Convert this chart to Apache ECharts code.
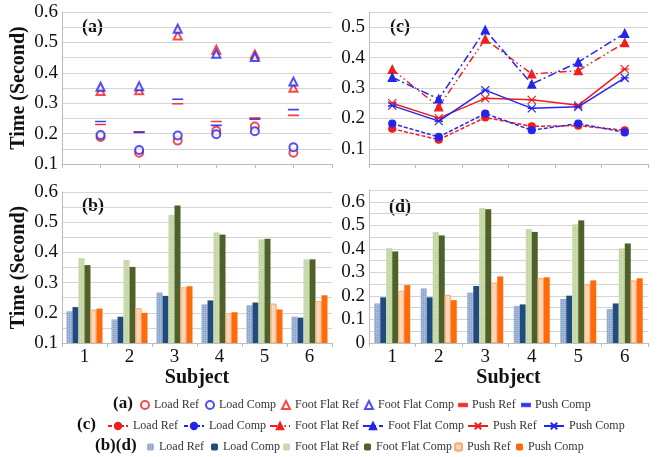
<!DOCTYPE html>
<html>
<head>
<meta charset="utf-8">
<script src="https://cdn.jsdelivr.net/npm/echarts@6/dist/echarts.min.js"></script>
<style>
  html, body { margin: 0; padding: 0; background: #fff; }
  #chart { width: 665px; height: 457px; }
</style>
</head>
<body>
<div id="chart"></div>
<script>
const subjects = ['1', '2', '3', '4', '5', '6']

// (a) scatter
const aLoadRef = [0.189, 0.137, 0.177, 0.209, 0.223, 0.137]
const aLoadComp = [0.195, 0.146, 0.194, 0.198, 0.208, 0.155]
const aFootRef = [0.340, 0.343, 0.523, 0.476, 0.460, 0.351]
const aFootComp = [0.354, 0.356, 0.545, 0.463, 0.452, 0.371]
const aPushRef = [0.230, 0.206, 0.298, 0.240, 0.251, 0.260]
const aPushComp = [0.240, 0.204, 0.313, 0.227, 0.247, 0.279]

// (b) bars
const bLoadRef = [0.205, 0.178, 0.267, 0.228, 0.225, 0.187]
const bLoadComp = [0.219, 0.187, 0.256, 0.241, 0.234, 0.184]
const bFootRef = [0.381, 0.375, 0.524, 0.466, 0.443, 0.377]
const bFootComp = [0.358, 0.352, 0.555, 0.459, 0.445, 0.377]
const bPushRef = [0.210, 0.215, 0.284, 0.199, 0.230, 0.238]
const bPushComp = [0.214, 0.200, 0.288, 0.202, 0.211, 0.258]

// (c) lines
const cLoadRef = [0.166, 0.130, 0.203, 0.174, 0.176, 0.161]
const cLoadComp = [0.183, 0.139, 0.216, 0.161, 0.183, 0.154]
const cFootRef = [0.361, 0.238, 0.461, 0.346, 0.357, 0.449]
const cFootComp = [0.335, 0.264, 0.491, 0.313, 0.385, 0.480]
const cPushRef = [0.250, 0.201, 0.266, 0.261, 0.243, 0.362]
const cPushComp = [0.242, 0.191, 0.293, 0.233, 0.238, 0.333]

// (d) bars
const dLoadRef = [0.168, 0.232, 0.214, 0.158, 0.187, 0.144]
const dLoadComp = [0.194, 0.194, 0.242, 0.164, 0.201, 0.168]
const dFootRef = [0.403, 0.472, 0.574, 0.484, 0.504, 0.402]
const dFootComp = [0.389, 0.457, 0.568, 0.472, 0.521, 0.423]
const dPushRef = [0.221, 0.204, 0.256, 0.275, 0.249, 0.265]
const dPushComp = [0.246, 0.182, 0.283, 0.279, 0.266, 0.275]

const legendNames = ['Load Ref', 'Load Comp', 'Foot Flat Ref', 'Foot Flat Comp', 'Push Ref', 'Push Comp']

const serif = '"Liberation Serif", "Times New Roman", serif'
const red = '#f01e1e'
const blue = '#2424f0'
const dash = 'path://M0,0H10V3H0Z'
const cross = 'path://M0,0L10,10M10,0L0,10M0,5H10'

const barColors = {
  loadRef: '#91a9cf', loadComp: '#1f4b7e',
  footRef: '#c3d5a0', footComp: '#4e6128',
  pushRef: '#fbd3b3', pushComp: '#ff6a0a'
}

const tickLabel = v => {
  const k = Math.round(v * 100)
  if (k % 10 !== 0) return ''
  return k === 0 ? '0' : (k / 100).toFixed(1)
}

const yAxis = (gridIndex, min, max, named) => ({
  type: 'value', gridIndex, min, max, interval: 0.05,
  axisLine: {show: true, lineStyle: {color: '#bdbdbd'}},
  axisTick: {show: false},
  splitLine: {lineStyle: {color: '#d4d4d4'}},
  axisLabel: {formatter: tickLabel, fontFamily: serif, fontSize: 19, color: '#111', margin: 4},
  name: named ? 'Time (Second)' : '',
  nameLocation: 'middle',
  nameGap: 33,
  nameTextStyle: {fontFamily: serif, fontSize: 20, fontWeight: 'bold', color: '#111'}
})

const catAxis = (gridIndex, labels) => ({
  type: 'category', gridIndex, data: subjects,
  axisLine: {lineStyle: {color: '#bdbdbd'}},
  axisTick: {show: true, length: 4, lineStyle: {color: '#bdbdbd'}},
  axisLabel: {show: labels, fontFamily: serif, fontSize: 19, color: '#111', margin: 5},
  name: labels ? 'Subject' : '',
  nameLocation: 'middle',
  nameGap: 25,
  nameTextStyle: {fontFamily: serif, fontSize: 20, fontWeight: 'bold', color: '#111'}
})

const pts = arr => arr.map((v, i) => [i + 1, v])

const scatter = (name, data, symbol, color, size) => ({
  name, type: 'scatter', xAxisIndex: 0, yAxisIndex: 0,
  data: pts(data), symbol, symbolSize: size, symbolKeepAspect: true,
  itemStyle: {color, borderColor: color, borderWidth: 1.2}
})

const line = (name, data, color, symbol, size, dashType) => ({
  name, type: 'line', xAxisIndex: 2, yAxisIndex: 2,
  data, symbol, symbolSize: size,
  lineStyle: {color, width: 1.5, type: dashType},
  itemStyle: {color, borderColor: color, borderWidth: 1.2}
})

const refDecal = {symbol: 'rect', symbolSize: 1, dashArrayX: [1, 1], dashArrayY: [1, 1], color: 'rgba(255,255,255,0.35)'}

const bar = (name, idx, data, color, ref) => ({
  name, type: 'bar', xAxisIndex: idx, yAxisIndex: idx,
  data, barWidth: 6, barGap: '0%',
  itemStyle: Object.assign({color}, ref ? {decal: refDecal} : {},
    name.endsWith('Push Ref') ? {borderColor: '#f5ae7c', borderWidth: 0.8} : {})
})

// one legend per entry so each can sit where the original puts it
const legendRow = (prefix, lefts, centerY, iconW, iconH) => lefts.map((left, i) => ({
  left, top: centerY - 7, padding: 0, itemWidth: iconW, itemHeight: iconH,
  selectedMode: false,
  formatter: n => n.slice(2),
  textStyle: {fontFamily: serif, fontSize: 12, lineHeight: 14, color: '#333'},
  data: [prefix + ':' + legendNames[i]]
}))

const label = (text, left, centerY, size) => ({
  type: 'text', left, top: centerY - size / 2 - 1,
  style: {text, fontFamily: serif, fontSize: size, fontWeight: 'bold', fill: '#111'}
})

const chart = echarts.init(document.getElementById('chart'))
chart.setOption({
  animation: false,
  grid: [
    {left: 62, top: 12, width: 270, height: 152},
    {left: 62, top: 192, width: 270, height: 151},
    {left: 369, top: 12, width: 279, height: 152},
    {left: 369, top: 190, width: 279, height: 153}
  ],
  xAxis: [
    {type: 'value', gridIndex: 0, min: 0, max: 7, interval: 1,
      axisLine: {lineStyle: {color: '#bdbdbd'}},
      axisTick: {show: true, length: 4, lineStyle: {color: '#bdbdbd'}},
      axisLabel: {show: false}, splitLine: {show: false}},
    catAxis(1, true),
    catAxis(2, false),
    catAxis(3, true)
  ],
  yAxis: [
    yAxis(0, 0.1, 0.6, true),
    yAxis(1, 0.1, 0.6, true),
    yAxis(2, 0.05, 0.55, false),
    yAxis(3, 0, 0.65, false)
  ],
  legend: [
    ...legendRow('a', [140, 205, 281, 364, 458, 521], 405, 8, 8),
    ...legendRow('c', [107, 183, 269, 362, 467, 543], 426, 20, 8),
    ...legendRow('b', [147, 211, 283, 364, 454, 516], 447, 7, 7)
  ],
  graphic: [
    label('(a)', 82, 28, 18),
    label('(b)', 82, 207, 18),
    label('(c)', 390, 28, 18),
    label('(d)', 389, 208, 18),
    label('(a)', 113, 405, 17),
    label('(c)', 77, 426, 17),
    label('(b)(d)', 95, 447, 17)
  ],
  series: [
    scatter('a:Load Ref', aLoadRef, 'emptyCircle', red, 8),
    scatter('a:Load Comp', aLoadComp, 'emptyCircle', blue, 8),
    scatter('a:Foot Flat Ref', aFootRef, 'emptyTriangle', red, 8),
    scatter('a:Foot Flat Comp', aFootComp, 'emptyTriangle', blue, 8),
    scatter('a:Push Ref', aPushRef, dash, red, [9, 3]),
    scatter('a:Push Comp', aPushComp, dash, blue, [9, 3]),

    bar('b:Load Ref', 1, bLoadRef, barColors.loadRef, true),
    bar('b:Load Comp', 1, bLoadComp, barColors.loadComp, false),
    bar('b:Foot Flat Ref', 1, bFootRef, barColors.footRef, true),
    bar('b:Foot Flat Comp', 1, bFootComp, barColors.footComp, false),
    bar('b:Push Ref', 1, bPushRef, barColors.pushRef, true),
    bar('b:Push Comp', 1, bPushComp, barColors.pushComp, false),

    line('c:Load Ref', cLoadRef, red, 'circle', 7, [4, 2]),
    line('c:Load Comp', cLoadComp, blue, 'circle', 7, [4, 2]),
    line('c:Foot Flat Ref', cFootRef, red, 'triangle', 8, [7, 3, 1.5, 3, 1.5, 3]),
    line('c:Foot Flat Comp', cFootComp, blue, 'triangle', 8, [8, 3, 2, 3]),
    line('c:Push Ref', cPushRef, red, cross, 8, 'solid'),
    line('c:Push Comp', cPushComp, blue, cross, 8, 'solid'),

    bar('d:Load Ref', 3, dLoadRef, barColors.loadRef, true),
    bar('d:Load Comp', 3, dLoadComp, barColors.loadComp, false),
    bar('d:Foot Flat Ref', 3, dFootRef, barColors.footRef, true),
    bar('d:Foot Flat Comp', 3, dFootComp, barColors.footComp, false),
    bar('d:Push Ref', 3, dPushRef, barColors.pushRef, true),
    bar('d:Push Comp', 3, dPushComp, barColors.pushComp, false)
  ]
})
</script>
</body>
</html>
